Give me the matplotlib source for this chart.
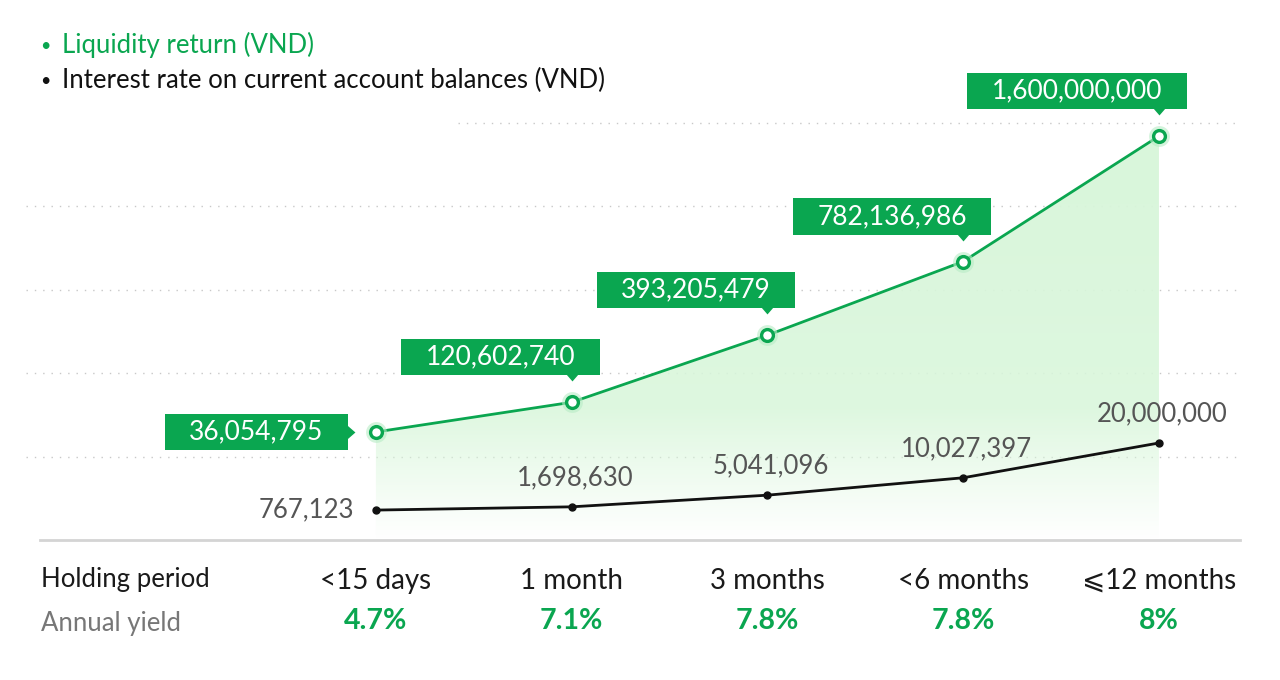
import numpy as np
import matplotlib
matplotlib.use("Agg")
import matplotlib.pyplot as plt
from matplotlib.transforms import offset_copy

# du lieu
periods = ['<15 days', '1 month', '3 months', '<6 months', '⩽12 months']
yields = ['4.7%', '7.1%', '7.8%', '7.8%', '8%']
liquidity = [36054795, 120602740, 393205479, 782136986, 1600000000]
interest = [767123, 1698630, 5041096, 10027397, 20000000]

GREEN = '#0aa650'
FONT = ['Lato', 'DejaVu Sans']
plt.rcParams['font.family'] = FONT

x = np.arange(len(periods))
g = np.array(liquidity, dtype=float)
b = np.array(interest, dtype=float)

fig = plt.figure(figsize=(12.8, 6.8), dpi=100)
ax = fig.add_axes([40 / 1280, 140 / 680, 1200 / 1280, 440 / 680])

# thang do luy thua cho duong xanh (bieu do goc khong theo ti le)
p = 0.7
fwd = lambda v: np.sign(v) * np.abs(v) ** p
inv = lambda t: np.sign(t) * np.abs(t) ** (1 / p)
ax.set_yscale('function', functions=(fwd, inv))
t0, t1 = fwd(g[0]), fwd(g[-1])
span = (t1 - t0) / (0.918 - 0.2455)
lo = t0 - 0.2455 * span
ax.set_ylim(inv(lo), inv(lo + span))
ax.set_xlim(-1.716, 4.414)

# nen gradient duoi duong xanh
poly = ax.fill_between(x, g, inv(lo), facecolor='none', edgecolor='none')
fr = np.linspace(1, 0, 256)
grad = np.zeros((256, 1, 4))
grad[:, 0, 0] = 0.85
grad[:, 0, 1] = 0.965
grad[:, 0, 2] = 0.855
grad[:, 0, 3] = np.clip(fr / 0.3, 0, 1) * (0.8 + 0.2 * fr)
im = ax.imshow(grad, extent=[0, 1, 0, 1], transform=ax.transAxes, aspect='auto', zorder=1)
im.set_clip_path(poly.get_paths()[0], transform=ax.transData)

# luoi cham
for k, f in enumerate(np.arange(1, 6) * 0.1895):
    x0 = 0.348 if k == 4 else -0.012
    ax.plot([x0, 1], [f, f], transform=ax.transAxes, ls=(0, (1, 5)), color='#c8c8c8',
            lw=1, clip_on=False, zorder=0)

ax.plot(x, g, color=GREEN, lw=2, zorder=3)
ax.plot(x, g, 'o', ms=15, color='#b8ecc6', alpha=0.6, zorder=4, mec='none')
ax.plot(x, g, 'o', ms=8.5, mfc='white', mec=GREEN, mew=2.4, zorder=5)

for s in ['top', 'left', 'right']:
    ax.spines[s].set_visible(False)
ax.spines['bottom'].set_color('#d4d4d4')
ax.spines['bottom'].set_linewidth(2)
ax.set_xticks([])
ax.set_yticks([])

# nhan xanh
box = dict(boxstyle='square,pad=0.93', fc=GREEN, ec='none', mutation_aspect=0.23)
down = [(-1, 0.15), (1, 0.15), (0, -1)]
right = [(-0.15, 1), (-0.15, -1), (1, 0)]
hp = 24.5
for i, v in enumerate(liquidity):
    txt = f"{v:,}"
    if i == 0:
        ax.annotate(txt, (x[i], g[i]), xytext=(-28 - hp, 0), textcoords='offset pixels',
                    ha='right', va='center', fontsize=19, color='white', bbox=box, zorder=6)
        tr = offset_copy(ax.transData, fig=fig, x=-28, y=0, units='dots')
        ax.plot(x[i], g[i], marker=right, ms=10, color=GREEN, mec='none', transform=tr, zorder=6)
    else:
        ax.annotate(txt, (x[i], g[i]), xytext=(28 - hp, 45), textcoords='offset pixels',
                    ha='right', va='center', fontsize=19, color='white', bbox=box, zorder=6)
        tr = offset_copy(ax.transData, fig=fig, x=0, y=28, units='dots')
        ax.plot(x[i], g[i], marker=down, ms=10, color=GREEN, mec='none', transform=tr, zorder=6)

# duong den tren truc phu
ax2 = ax.twinx()
sp = (b[-1] - b[0]) / (0.2205 - 0.068)
blo = b[0] - 0.068 * sp
ax2.set_ylim(blo, blo + sp)
ax2.plot(x, b, color='#111111', lw=2, marker='o', ms=5, zorder=3)
for s in ax2.spines.values():
    s.set_visible(False)
ax2.set_yticks([])
for i, v in enumerate(interest):
    if i == 0:
        ax2.annotate(f"{v:,}", (x[i], b[i]), xytext=(-22, 0), textcoords='offset pixels',
                     ha='right', va='center', fontsize=18.5, color='#555555')
    else:
        ax2.annotate(f"{v:,}", (x[i], b[i]), xytext=(3, 29), textcoords='offset pixels',
                     ha='center', va='center', fontsize=18.5, color='#555555')

# hang duoi
tb = ax.get_xaxis_transform()
for i in range(len(periods)):
    ax.text(x[i], -0.093, periods[i], transform=tb, ha='center', va='center',
            fontsize=20, color='#1a1a1a', family=FONT)
    ax.text(x[i], -0.184, yields[i], transform=tb, ha='center', va='center',
            fontsize=20.5, color=GREEN, fontweight='bold')
fig.text(41 / 1280, 1 - 580 / 680, 'Holding period', ha='left', va='center', fontsize=18.5, color='#1a1a1a')
fig.text(41 / 1280, 1 - 623 / 680, 'Annual yield', ha='left', va='center', fontsize=18.5, color='#777777')

# chu thich
fig.text(40 / 1280, 1 - 46 / 680, '•', ha='left', va='center', fontsize=13, color=GREEN)
fig.text(62 / 1280, 1 - 45 / 680, 'Liquidity return (VND)', ha='left', va='center', fontsize=18.5, color=GREEN)
fig.text(40 / 1280, 1 - 81 / 680, '•', ha='left', va='center', fontsize=13, color='#111111')
fig.text(62 / 1280, 1 - 80 / 680, 'Interest rate on current account balances (VND)', ha='left',
         va='center', fontsize=18.5, color='#111111')

fig.savefig('out.png', dpi=100, facecolor='white')
